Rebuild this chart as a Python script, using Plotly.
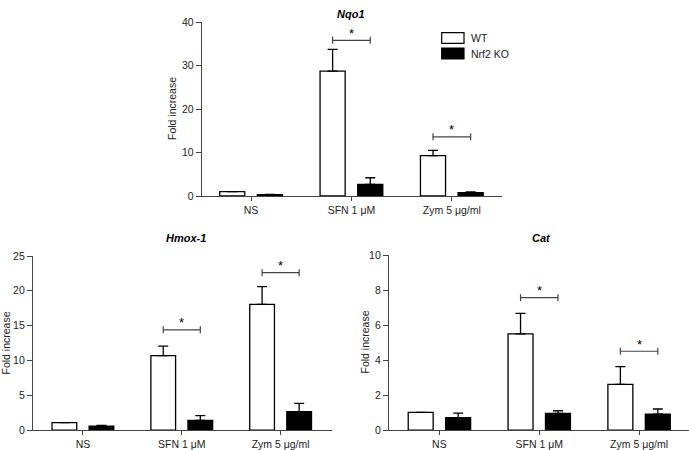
import plotly.graph_objects as go

categories = ["NS", "SFN 1 μM", "Zym 5 μg/ml"]
series_names = ["WT", "Nrf2 KO"]

nqo1_wt = [1.0, 28.7, 9.3]
nqo1_wt_err = [0.0, 5.0, 1.2]
nqo1_ko = [0.3, 2.7, 0.75]
nqo1_ko_err = [0.05, 1.5, 0.2]
nqo1_sig = [None, 35.8, 13.6]

hmox_wt = [1.05, 10.7, 18.05]
hmox_wt_err = [0.0, 1.35, 2.55]
hmox_ko = [0.57, 1.39, 2.63]
hmox_ko_err = [0.1, 0.67, 1.2]
hmox_sig = [None, 14.4, 22.6]

cat_wt = [1.01, 5.49, 2.61]
cat_wt_err = [0.0, 1.18, 1.01]
cat_ko = [0.70, 0.95, 0.91]
cat_ko_err = [0.27, 0.15, 0.29]
cat_sig = [None, 7.56, 4.5]

W, H = 689, 450
panels = [
    dict(title="Nqo1", wt=nqo1_wt, wte=nqo1_wt_err, ko=nqo1_ko, koe=nqo1_ko_err, sig=nqo1_sig,
         yr=[0, 40], dt=10, xd=[0.293, 0.7286], yd=[0.5644, 0.951], xr=[-0.49, 2.5],
         tx=351, ty=14, lx=172),
    dict(title="Hmox-1", wt=hmox_wt, wte=hmox_wt_err, ko=hmox_ko, koe=hmox_ko_err, sig=hmox_sig,
         yr=[0, 25], dt=5, xd=[0.0479, 0.4819], yd=[0.0444, 0.4311], xr=[-0.505, 2.52],
         tx=186, ty=238, lx=6.5),
    dict(title="Cat", wt=cat_wt, wte=cat_wt_err, ko=cat_ko, koe=cat_ko_err, sig=cat_sig,
         yr=[0, 10], dt=2, xd=[0.5646, 1.0], yd=[0.0444, 0.4333], xr=[-0.505, 2.5],
         tx=541, ty=238, lx=365),
]

FONT = "Liberation Sans, Arial, sans-serif"
AX = "#444444"
fig = go.Figure()
shapes = []
annotations = []
idx = [0, 1, 2]

for i, p in enumerate(panels):
    n = "" if i == 0 else str(i + 1)
    xa, ya = "x" + n, "y" + n
    fig.add_trace(go.Bar(x=idx, y=p["wt"], name=series_names[0], xaxis=xa, yaxis=ya,
                         marker=dict(color="white", line=dict(color="black", width=1.3)),
                         error_y=dict(type="data", symmetric=False, array=p["wte"],
                                      arrayminus=[0] * 3, color="black", thickness=1.3, width=5),
                         offsetgroup="wt", showlegend=False))
    fig.add_trace(go.Bar(x=idx, y=p["ko"], name=series_names[1], xaxis=xa, yaxis=ya,
                         marker=dict(color="black", line=dict(color="black", width=1.3)),
                         error_y=dict(type="data", symmetric=False, array=p["koe"],
                                      arrayminus=[0] * 3, color="black", thickness=1.3, width=5),
                         offsetgroup="ko", showlegend=False))
    axis_common = dict(showgrid=False, zeroline=False, showline=True, linecolor=AX, linewidth=1.2,
                       automargin=False, ticks="outside", tickcolor=AX, fixedrange=True,
                       tickfont=dict(family=FONT, size=10.5, color="#222"))
    fig.layout["xaxis" + n] = dict(axis_common, domain=p["xd"], range=p["xr"], anchor=ya,
                                   tickmode="array", tickvals=idx, ticktext=categories, ticklen=4)
    fig.layout["yaxis" + n] = dict(axis_common, domain=p["yd"], range=p["yr"], anchor=xa,
                                   dtick=p["dt"], tick0=0, ticklen=5)
    # titles
    annotations.append(dict(text="<b><i>%s</i></b>" % p["title"], xref="paper", yref="paper",
                            x=p["tx"] / W, y=1 - p["ty"] / H, showarrow=False,
                            xanchor="center", yanchor="middle",
                            font=dict(family=FONT, size=11, color="black")))
    annotations.append(dict(text="Fold increase", xref="paper", yref="paper", textangle=-90,
                            x=p["lx"] / W, y=(p["yd"][0] + p["yd"][1]) / 2,
                            showarrow=False, xanchor="center", yanchor="middle",
                            font=dict(family=FONT, size=10.5, color="#222")))
    # significance brackets
    for k, s in enumerate(p["sig"]):
        if s is None:
            continue
        x0, x1 = k - 0.1875, k + 0.1875
        shapes.append(dict(type="line", xref=xa, yref=ya, x0=x0, x1=x1, y0=s, y1=s,
                           line=dict(color=AX, width=1.2)))
        for xx in (x0, x1):
            shapes.append(dict(type="line", xref=xa, yref=ya, xsizemode="scaled", ysizemode="pixel",
                               yanchor=s, x0=xx, x1=xx, y0=-3.5, y1=3.5,
                               line=dict(color=AX, width=1.2)))
        annotations.append(dict(text="*", xref=xa, yref=ya, x=k, y=s, yshift=7,
                                showarrow=False, font=dict(family=FONT, size=13, color="black")))

# legend
lx0, lx1 = 441.7 / W, 464 / W
for j, (nm, col, yt, yb) in enumerate([("WT", "white", 32.7, 43.3), ("Nrf2 KO", "black", 48, 59)]):
    shapes.append(dict(type="rect", xref="paper", yref="paper", x0=lx0, x1=lx1,
                       y0=1 - yb / H, y1=1 - yt / H, fillcolor=col,
                       line=dict(color="black", width=1.2)))
    annotations.append(dict(text=nm, xref="paper", yref="paper", x=469 / W,
                            y=1 - (yt + yb) / 2 / H, xanchor="left", yanchor="middle",
                            showarrow=False, font=dict(family=FONT, size=10.5, color="#222")))

fig.update_layout(width=W, height=H, margin=dict(l=0, r=0, t=0, b=0),
                  paper_bgcolor="white", plot_bgcolor="white",
                  barmode="group", bargap=0.25, bargroupgap=1 / 3,
                  shapes=shapes, annotations=annotations, showlegend=False)

fig.write_html("out.html", config={"displayModeBar": False},
               post_script="document.body.style.margin='0';document.body.style.overflow='hidden';")
